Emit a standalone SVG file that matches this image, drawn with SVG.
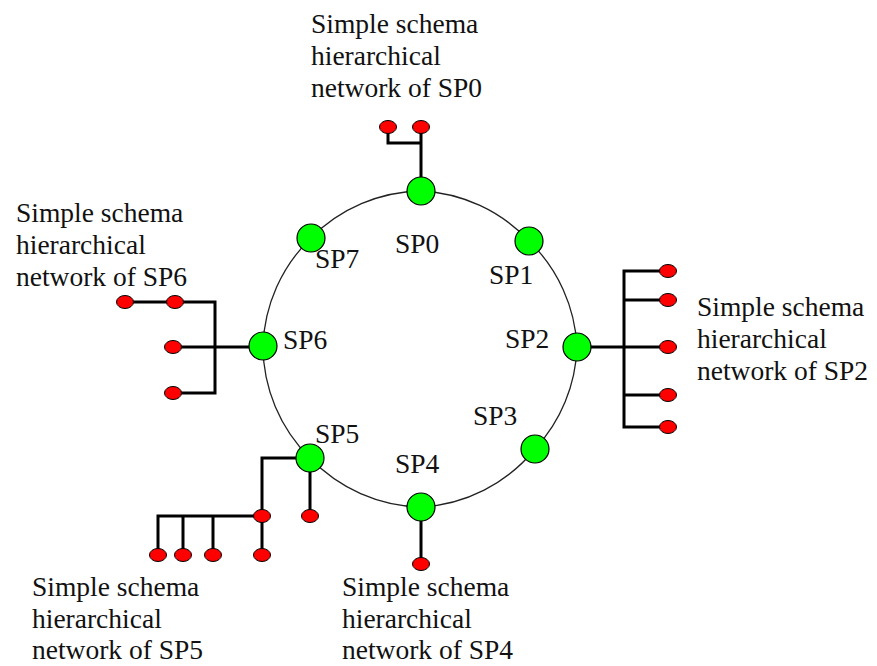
<svg xmlns="http://www.w3.org/2000/svg" xmlns:xlink="http://www.w3.org/1999/xlink" width="877" height="666" viewBox="0 0 877 666">
  <style>
    .ring { fill: none; stroke: #222; stroke-width: 1.3; }
    .wire { fill: none; stroke: #000; stroke-width: 3; stroke-linejoin: miter; stroke-linecap: square; }
    .sp { fill: #00ff00; stroke: #000; stroke-width: 1.2; }
    .leaf { fill: #ff0000; stroke: #000; stroke-width: 1; }
    text { font-family: "Liberation Serif", "Times New Roman", serif; font-size: 27.5px; fill: #111; }
  </style>
  <defs>
    <ellipse id="leafShape" class="leaf" cx="0" cy="0" rx="8.5" ry="6.5"/>
  </defs>

  <rect width="877" height="666" fill="#ffffff"/>

  <!-- connectors: ring between servers and the wiring of each local tree -->
  <g id="connectors">
    <path class="ring" d="M421,191 A158,158 0 0 1 529,241 A158,158 0 0 1 577,347 A158,158 0 0 1 535,449 A158,158 0 0 1 421,507 A158,158 0 0 1 310,458 A158,158 0 0 1 263,346 A158,158 0 0 1 311,238 A158,158 0 0 1 421,191 Z"/>
    <!-- SP0 tree -->
    <path class="wire" d="M421,127 V177 M388,127 V143 H421"/>
    <!-- SP2 tree -->
    <path class="wire" d="M591,347 H668 M668,271 H624 V427 H668 M624,300 H668 M624,395 H668"/>
    <!-- SP6 tree -->
    <path class="wire" d="M125,302 H215 V393 H173 M173,347 H249"/>
    <!-- SP5 tree -->
    <path class="wire" d="M296,458 H262 V555 M262,516 H158 V555 M183,516 V555 M213,516 V555 M310,472 V516"/>
    <!-- SP4 tree -->
    <path class="wire" d="M421,521 V564"/>
  </g>

  <!-- ring servers -->
  <g id="SP0"><circle class="sp" cx="421" cy="191" r="14"/><text x="395" y="253">SP0</text></g>
  <g id="SP1"><circle class="sp" cx="529" cy="241" r="14"/><text x="489" y="284">SP1</text></g>
  <g id="SP2"><circle class="sp" cx="577" cy="347" r="14"/><text x="505" y="348">SP2</text></g>
  <g id="SP3"><circle class="sp" cx="535" cy="449" r="14"/><text x="473" y="425">SP3</text></g>
  <g id="SP4"><circle class="sp" cx="421" cy="507" r="14"/><text x="395" y="473">SP4</text></g>
  <g id="SP5"><circle class="sp" cx="310" cy="458" r="14"/><text x="315" y="443">SP5</text></g>
  <g id="SP6"><circle class="sp" cx="263" cy="346" r="14"/><text x="283" y="349">SP6</text></g>
  <g id="SP7"><circle class="sp" cx="311" cy="238" r="14"/><text x="315" y="268">SP7</text></g>

  <!-- leaves of the local trees -->
  <g id="leaves-SP0">
    <use xlink:href="#leafShape" href="#leafShape" x="388" y="127"/>
    <use xlink:href="#leafShape" href="#leafShape" x="421" y="127"/>
  </g>
  <g id="leaves-SP2">
    <use xlink:href="#leafShape" href="#leafShape" x="668" y="271"/>
    <use xlink:href="#leafShape" href="#leafShape" x="668" y="300"/>
    <use xlink:href="#leafShape" href="#leafShape" x="668" y="347"/>
    <use xlink:href="#leafShape" href="#leafShape" x="668" y="395"/>
    <use xlink:href="#leafShape" href="#leafShape" x="668" y="427"/>
  </g>
  <g id="leaves-SP6">
    <use xlink:href="#leafShape" href="#leafShape" x="125" y="302"/>
    <use xlink:href="#leafShape" href="#leafShape" x="175" y="302"/>
    <use xlink:href="#leafShape" href="#leafShape" x="173" y="347"/>
    <use xlink:href="#leafShape" href="#leafShape" x="173" y="393"/>
  </g>
  <g id="leaves-SP5">
    <use xlink:href="#leafShape" href="#leafShape" x="262" y="516"/>
    <use xlink:href="#leafShape" href="#leafShape" x="310" y="516"/>
    <use xlink:href="#leafShape" href="#leafShape" x="158" y="555"/>
    <use xlink:href="#leafShape" href="#leafShape" x="183" y="555"/>
    <use xlink:href="#leafShape" href="#leafShape" x="213" y="555"/>
    <use xlink:href="#leafShape" href="#leafShape" x="262" y="555"/>
  </g>
  <g id="leaves-SP4">
    <use xlink:href="#leafShape" href="#leafShape" x="421" y="564"/>
  </g>

  <!-- captions of the local networks -->
  <g id="caption-SP0">
    <text x="311" y="33">Simple schema</text>
    <text x="311" y="65">hierarchical</text>
    <text x="311" y="97">network of SP0</text>
  </g>
  <g id="caption-SP2">
    <text x="697" y="316">Simple schema</text>
    <text x="697" y="348">hierarchical</text>
    <text x="697" y="380">network of SP2</text>
  </g>
  <g id="caption-SP6">
    <text x="16" y="222">Simple schema</text>
    <text x="16" y="254">hierarchical</text>
    <text x="16" y="286">network of SP6</text>
  </g>
  <g id="caption-SP5">
    <text x="32" y="596">Simple schema</text>
    <text x="32" y="628">hierarchical</text>
    <text x="32" y="659">network of SP5</text>
  </g>
  <g id="caption-SP4">
    <text x="342" y="596">Simple schema</text>
    <text x="342" y="628">hierarchical</text>
    <text x="342" y="659">network of SP4</text>
  </g>
</svg>
